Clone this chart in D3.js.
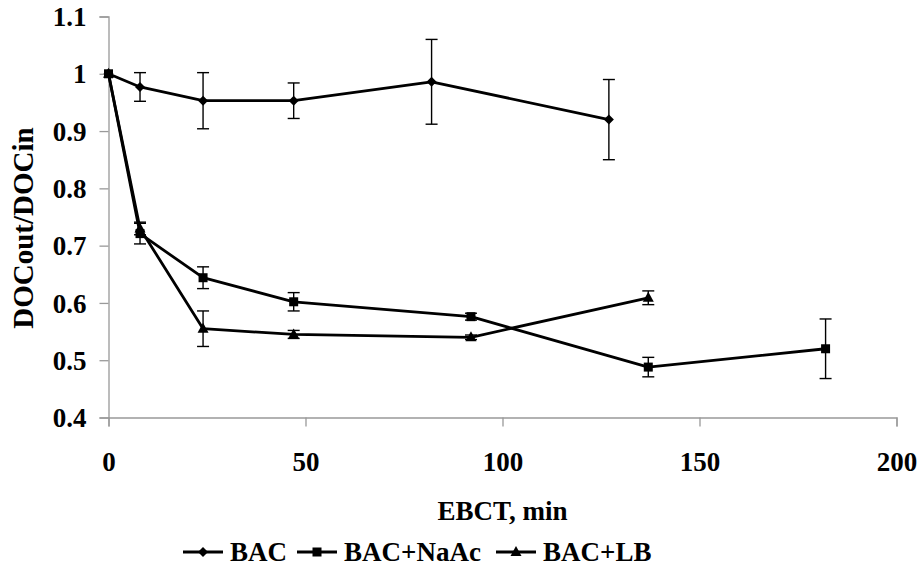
<!DOCTYPE html>
<html><head><meta charset="utf-8">
<script src="https://cdn.jsdelivr.net/npm/d3@7"></script>
</head><body style="margin:0"><svg id="c" width="920" height="566"></svg>
<script>
const xTicks = [0, 50, 100, 150, 200];
const yTicks = [0.4, 0.5, 0.6, 0.7, 0.8, 0.9, 1, 1.1];
const yTickLabels = ["0.4", "0.5", "0.6", "0.7", "0.8", "0.9", "1", "1.1"];
const seriesNames = ["BAC", "BAC+NaAc", "BAC+LB"];
const bacX = [0, 8, 24, 47, 82, 127];
const bacY = [1, 0.977, 0.953, 0.953, 0.986, 0.920];
const bacErr = [0, 0.025, 0.049, 0.031, 0.074, 0.07];
const naacX = [0, 8, 24, 47, 92, 137, 182];
const naacY = [1, 0.721, 0.644, 0.602, 0.576, 0.488, 0.520];
const naacErr = [0, 0.018, 0.019, 0.016, 0.006, 0.017, 0.052];
const lbX = [0, 8, 24, 47, 92, 137];
const lbY = [1, 0.73, 0.555, 0.545, 0.540, 0.609];
const lbErr = [0, 0.011, 0.031, 0.007, 0.004, 0.012];
const xTitle = "EBCT, min";
const yTitle = "DOCout/DOCin";
const fams = ["Liberation Serif"];

const FS = 27;
function styleText(sel, size) {
  return sel.style("font-family", `"${fams[0]}"`).style("font-weight", "bold").style("font-size", `${size}px`);
}

const svg = d3.select("#c");
const x = d3.scaleLinear().domain([0, 200]).range([108.5, 896.5]);
const y = d3.scaleLinear().domain([0.4, 1.1]).range([417.5, 16.5]);

// axes
const gx = svg.append("g").attr("transform", `translate(0,${y(0.4)})`)
  .call(d3.axisBottom(x).tickValues(xTicks).tickSize(9).tickFormat(d3.format("d")));
gx.selectAll("path,line").attr("stroke", "#999").attr("stroke-width", 1.3);
styleText(gx.selectAll("text").attr("dy", null).attr("y", 0).attr("transform", "translate(0,53)"), FS);
const gy = svg.append("g").attr("transform", `translate(${x(0)},0)`)
  .call(d3.axisLeft(y).tickValues(yTicks).tickSize(9).tickFormat((d, i) => yTickLabels[i]));
gy.selectAll("path,line").attr("stroke", "#999").attr("stroke-width", 1.3);
styleText(gy.selectAll("text").attr("x", -22).attr("dy", "0.34em"), FS);

// titles
styleText(svg.append("text").attr("x", (x(0) + x(200)) / 2).attr("y", 520).attr("text-anchor", "middle").text(xTitle), FS);
styleText(svg.append("text").attr("transform", `translate(33,228) rotate(-90)`).attr("text-anchor", "middle").text(yTitle), 29);

const series = [
  {name: seriesNames[0], xs: bacX, ys: bacY, es: bacErr, sym: "diamond"},
  {name: seriesNames[1], xs: naacX, ys: naacY, es: naacErr, sym: "square"},
  {name: seriesNames[2], xs: lbX, ys: lbY, es: lbErr, sym: "triangle"}
];
function marker(g, sym, cx, cy) {
  if (sym === "diamond") g.append("path").attr("d", `M${cx},${cy-5}L${cx+5},${cy}L${cx},${cy+5}L${cx-5},${cy}Z`);
  else if (sym === "square") g.append("rect").attr("x", cx - 4.5).attr("y", cy - 4.5).attr("width", 9).attr("height", 9);
  else g.append("path").attr("d", `M${cx},${cy-6}L${cx+5.5},${cy+4}L${cx-5.5},${cy+4}Z`);
}
const line = d3.line().x(d => x(d[0])).y(d => y(d[1]));
series.forEach(s => {
  const pts = s.xs.map((v, i) => [v, s.ys[i], s.es[i]]);
  const g = svg.append("g");
  pts.filter(p => p[2] > 0).forEach(p => {
    const cx = x(p[0]), t = y(p[1] + p[2]), b = y(p[1] - p[2]);
    g.append("line").attr("x1", cx).attr("x2", cx).attr("y1", t).attr("y2", b).attr("stroke", "#000").attr("stroke-width", 1.4);
    [t, b].forEach(yy => g.append("line").attr("x1", cx - 6).attr("x2", cx + 6).attr("y1", yy).attr("y2", yy).attr("stroke", "#000").attr("stroke-width", 1.4));
  });
  g.append("path").datum(pts).attr("d", line).attr("fill", "none").attr("stroke", "#000").attr("stroke-width", 2.8).attr("stroke-linejoin", "round");
  const mg = g.append("g").attr("fill", "#000");
  pts.forEach(p => marker(mg, s.sym, x(p[0]), y(p[1])));
});

// legend
const legendLineX = [183, 297, 496];
const lg = svg.append("g").attr("transform", "translate(0,552)");
series.forEach((s, i) => {
  const it = lg.append("g").attr("transform", `translate(${legendLineX[i]},0)`);
  it.append("line").attr("x1", 0).attr("x2", 40).attr("y1", 0).attr("y2", 0).attr("stroke", "#000").attr("stroke-width", 2.8);
  marker(it.append("g").attr("fill", "#000"), s.sym, 20, 0);
  styleText(it.append("text").attr("x", 47).attr("y", 0).attr("dy", "0.34em").text(s.name), FS);
});
</script></body></html>
